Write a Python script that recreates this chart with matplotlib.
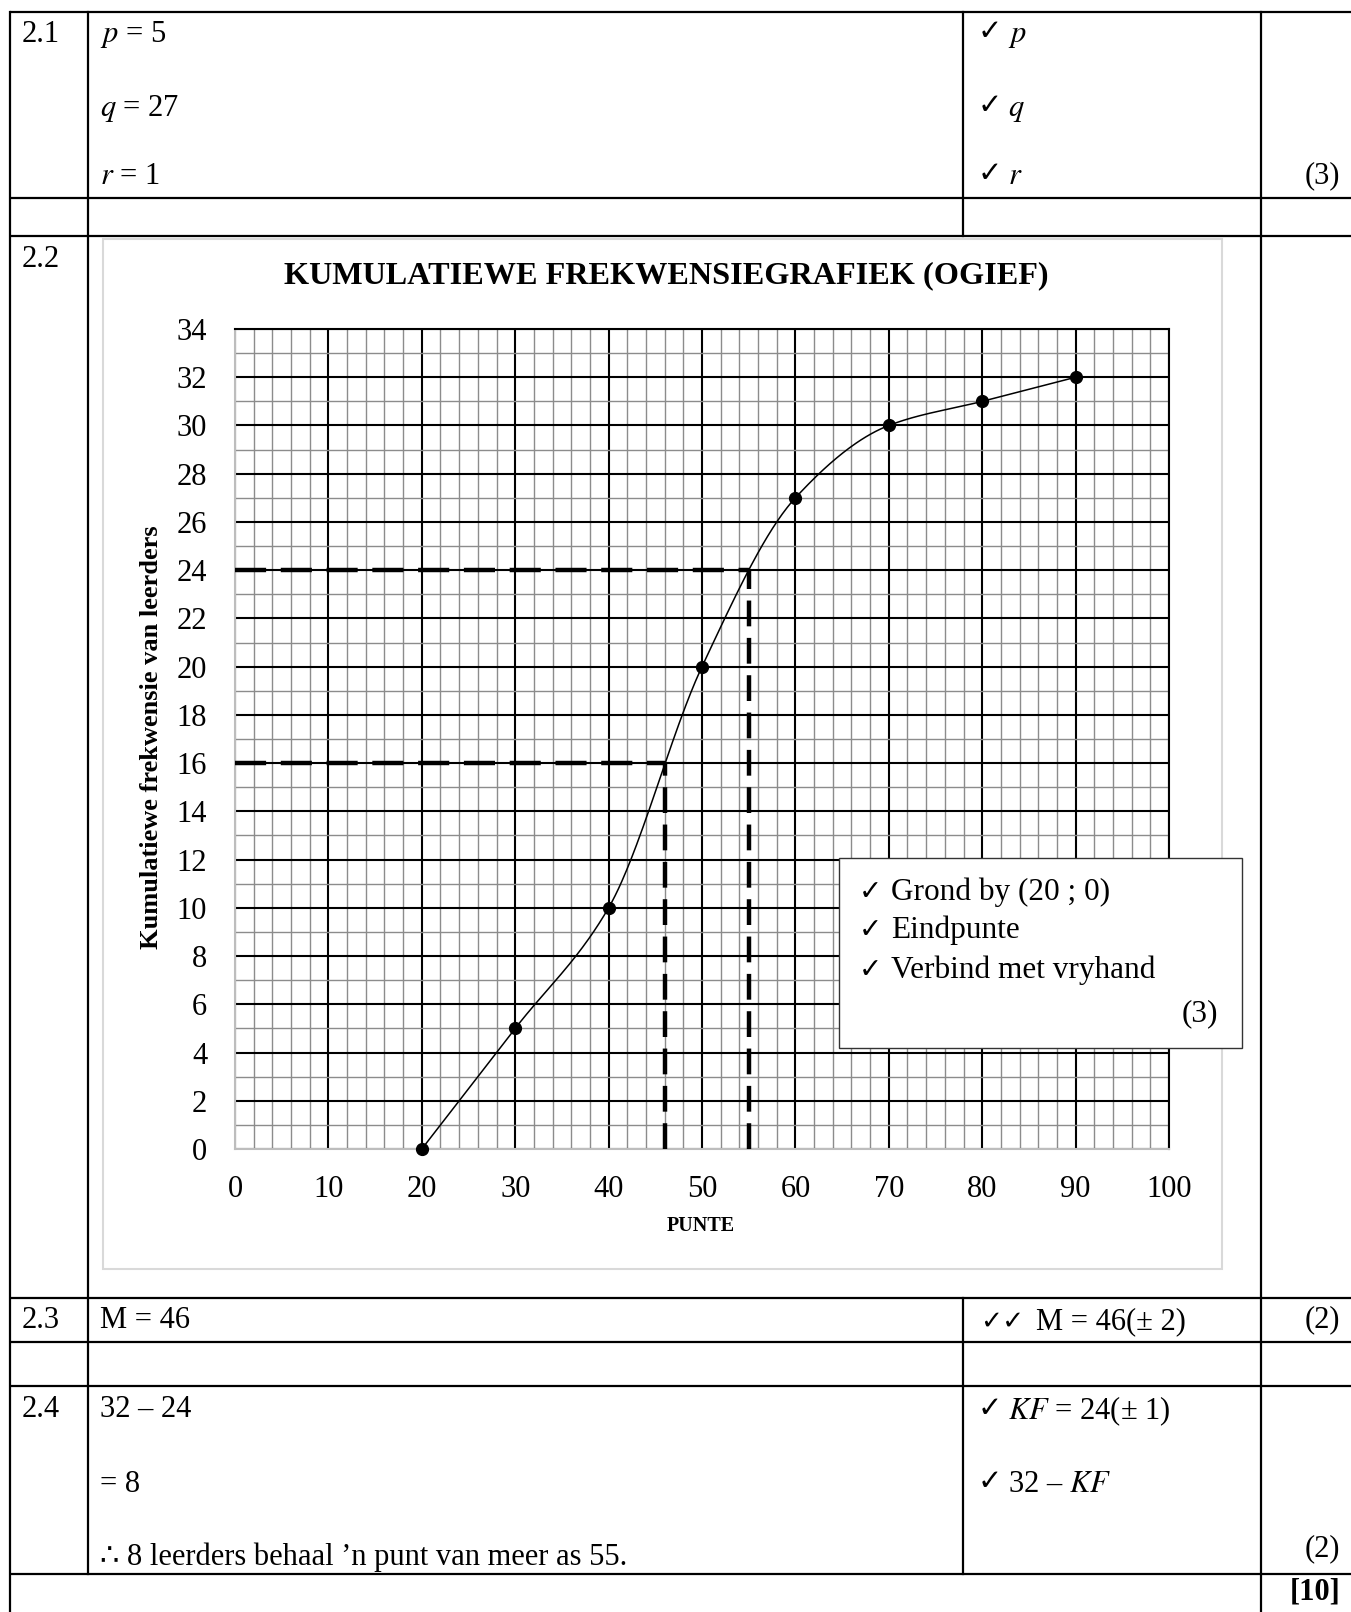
import numpy as np
import matplotlib
matplotlib.use('Agg')
import matplotlib.pyplot as plt
from matplotlib.patches import Rectangle

plt.rcParams['font.family'] = ['Liberation Serif', 'DejaVu Sans']
plt.rcParams['mathtext.fontset'] = 'stix'

# ogive data
punte = [20, 30, 40, 50, 60, 70, 80, 90]
kum_frek = [0, 5, 10, 20, 27, 30, 31, 32]
x_ticks = list(range(0, 101, 10))
y_ticks = list(range(0, 35, 2))
# readings from the graph
mediaan = 46
helfte = 16
grens = 55
kf_grens = 24


def pchip(x, y, xn):
    # monotone cubic through the points, for the freehand curve
    x = np.asarray(x, float)
    y = np.asarray(y, float)
    h = np.diff(x)
    d = np.diff(y) / h
    m = np.zeros_like(y)
    for k in range(1, len(x) - 1):
        if d[k - 1] * d[k] > 0:
            w1 = 2 * h[k] + h[k - 1]
            w2 = h[k] + 2 * h[k - 1]
            m[k] = (w1 + w2) / (w1 / d[k - 1] + w2 / d[k])
    m[0] = d[0]
    m[-1] = d[-1]
    i = np.clip(np.searchsorted(x, xn) - 1, 0, len(h) - 1)
    t = (xn - x[i]) / h[i]
    h00 = 2 * t**3 - 3 * t**2 + 1
    h10 = t**3 - 2 * t**2 + t
    h01 = -2 * t**3 + 3 * t**2
    h11 = t**3 - t**2
    return h00 * y[i] + h10 * h[i] * m[i] + h01 * y[i + 1] + h11 * h[i] * m[i + 1]


W, H = 1351, 1612
fig = plt.figure(figsize=(W / 100, H / 100), dpi=100)

# page in pixel coordinates (table, frame, answers)
page = fig.add_axes([0, 0, 1, 1], zorder=0)
page.set_xlim(0, W)
page.set_ylim(H, 0)
page.axis('off')

lw_tab = 1.6
for yy in [12, 198, 236, 1298, 1342, 1386, 1574]:
    page.plot([10, W], [yy, yy], color='black', lw=lw_tab, solid_capstyle='butt')
page.plot([10, 10], [12, H], color='black', lw=lw_tab)
page.plot([88, 88], [12, 1574], color='black', lw=lw_tab)
page.plot([963, 963], [12, 236], color='black', lw=lw_tab)
page.plot([963, 963], [1298, 1574], color='black', lw=lw_tab)
page.plot([1261, 1261], [12, H], color='black', lw=lw_tab)

page.add_patch(Rectangle((103, 239), 1222 - 103, 1269 - 239, fill=False,
                         edgecolor='#d9d9d9', lw=1.5))

fs = 22
def tx(x, y, s, **kw):
    kw.setdefault('fontsize', fs)
    kw.setdefault('va', 'baseline')
    page.text(x, y, s, **kw)

def check(x, y):
    page.text(x, y, '\u2713', fontsize=21, va='baseline', family='DejaVu Sans',
              fontweight='bold')

tx(22, 42, '2.1')
tx(100, 42, '$p$ = 5')
tx(100, 116, '$q$ = 27')
tx(100, 184, '$r$ = 1')
check(978, 40)
tx(1008, 42, '$p$')
check(978, 114)
tx(1008, 116, '$q$')
check(978, 182)
tx(1008, 184, '$r$')
tx(1340, 183, '(3)', ha='right')

tx(22, 267, '2.2')
page.text(666, 276, 'KUMULATIEWE FREKWENSIEGRAFIEK (OGIEF)', fontsize=23.2,
          fontweight='bold', ha='center', va='center')
page.text(152, 737, 'Kumulatiewe frekwensie van leerders', fontsize=19,
          fontweight='bold', rotation=90, ha='center', va='center')
page.text(701, 1226, 'PUNTE', fontsize=14.5, fontweight='bold',
          ha='center', va='center')

tx(22, 1328, '2.3')
tx(100, 1328, 'M = 46')
page.text(980, 1329, '\u2713\u2713', fontsize=19, va='baseline', family='DejaVu Sans')
tx(1036, 1329, 'M = 46(\u00b1 2)')
tx(1340, 1327, '(2)', ha='right')

tx(22, 1417, '2.4')
tx(100, 1417, '32 \u2013 24')
tx(100, 1492, '= 8')
tx(100, 1565, '\u2234 8 leerders behaal \u2019n punt van meer as 55.')
check(978, 1417)
tx(1008, 1419, '$KF$ = 24(\u00b1 1)')
check(978, 1490)
tx(1008, 1492, '32 \u2013 $KF$')
tx(1340, 1556, '(2)', ha='right')
tx(1340, 1600, '[10]', ha='right', fontweight='bold')

# ogive
ax = fig.add_axes([235 / W, (H - 1149) / H, 934 / W, 820 / H], zorder=2)
ax.set_facecolor('white')
ax.set_xlim(0, 100)
ax.set_ylim(0, 34)
ax.set_xticks(x_ticks)
ax.set_xticks(np.arange(0, 101, 2), minor=True)
ax.set_yticks(y_ticks)
ax.set_yticks(np.arange(0, 35, 1), minor=True)
ax.set_axisbelow(True)
ax.grid(which='minor', color='#8c8c8c', lw=1.0)
ax.grid(which='major', color='black', lw=1.5)
ax.tick_params(which='both', length=0)
ax.tick_params(axis='x', pad=19, labelsize=22)
ax.tick_params(axis='y', pad=20, labelsize=22)
for s in ['top', 'right']:
    ax.spines[s].set_color('black')
    ax.spines[s].set_linewidth(1.5)
for s in ['left', 'bottom']:
    ax.spines[s].set_color('#bdbdbd')
    ax.spines[s].set_linewidth(1.5)

xs = np.linspace(punte[0], punte[-1], 400)
ax.plot(xs, pchip(punte, kum_frek, xs), color='black', lw=1.1, zorder=4)
ax.plot(punte, kum_frek, 'o', color='black', ms=8.5, zorder=5, clip_on=False)

dash_h = (0, (7.0, 3.3))
dash_v = (0, (5.8, 2.6))
ax.plot([0, grens], [kf_grens, kf_grens], color='black', lw=3.2, ls=dash_h, zorder=3)
ax.plot([grens, grens], [0, kf_grens], color='black', lw=3.2, ls=dash_v, zorder=3)
ax.plot([0, mediaan], [helfte, helfte], color='black', lw=3.2, ls=dash_h, zorder=3)
ax.plot([mediaan, mediaan], [0, helfte], color='black', lw=3.2, ls=dash_v, zorder=3)

# marking box on top of the grid
over = fig.add_axes([0, 0, 1, 1], zorder=3)
over.set_xlim(0, W)
over.set_ylim(H, 0)
over.axis('off')
over.patch.set_alpha(0)
over.add_patch(Rectangle((839, 858), 1242 - 839, 1048 - 858, facecolor='white',
                         edgecolor='#333333', lw=1.0))
for yy, s in [(900, 'Grond by (20 ; 0)'), (938, 'Eindpunte'), (978, 'Verbind met vryhand')]:
    over.text(859, yy, '\u2713', fontsize=20, family='DejaVu Sans', va='baseline')
    over.text(891, yy, s, fontsize=22.5, va='baseline')
over.text(1218, 1021, '(3)', fontsize=22.5, ha='right', va='baseline')

fig.savefig('out.png', dpi=100)
